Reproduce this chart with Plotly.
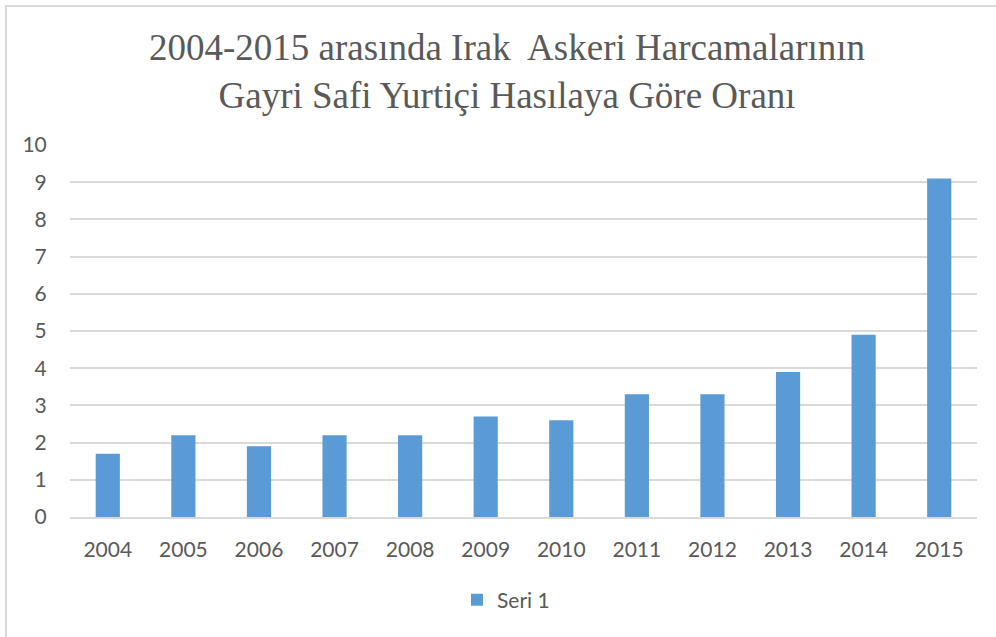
import plotly.graph_objects as go

years = ["2004", "2005", "2006", "2007", "2008", "2009", "2010", "2011", "2012", "2013", "2014", "2015"]
values = [1.7, 2.2, 1.9, 2.2, 2.2, 2.7, 2.6, 3.3, 3.3, 3.9, 4.9, 9.1]
series_name = "Seri 1"
title_text = "2004-2015 arasında Irak  Askeri Harcamalarının<br>Gayri Safi Yurtiçi Hasılaya Göre Oranı"

W, H = 996, 637
L, R, T, B = 70, 19, 145, 120
pw, ph = W - L - R, H - T - B

def px(x):
    return (x - L) / pw

def py(y):
    return (H - B - y) / ph

fig = go.Figure()
fig.add_trace(go.Bar(x=years, y=values, name=series_name, marker=dict(color="#5b9bd5", line=dict(width=0))))

fig.update_layout(
    width=W, height=H,
    margin=dict(l=L, r=R, t=T, b=B),
    paper_bgcolor="white", plot_bgcolor="white",
    bargap=0.68,
    showlegend=True,
    legend=dict(orientation="h", x=px(506), xanchor="center", y=py(600), yanchor="middle",
                font=dict(family="Lato", size=21, color="#595959")),
    font=dict(family="Lato", size=21, color="#595959"),
)
fig.update_xaxes(showgrid=False, showline=True, linecolor="#d9d9d9", linewidth=2,
                 ticks="outside", ticklen=13, tickcolor="rgba(0,0,0,0)",
                 tickfont=dict(family="Lato", size=21, color="#595959"))
fig.update_yaxes(range=[0, 10], dtick=1, showgrid=True, gridcolor="#d9d9d9", gridwidth=1.5,
                 zeroline=False, showline=False,
                 ticks="outside", ticklen=18, tickcolor="rgba(0,0,0,0)",
                 tickfont=dict(family="Lato", size=21, color="#595959"))

fig.add_annotation(text=title_text, xref="paper", yref="paper", x=px(507), y=py(72),
                   xanchor="center", yanchor="middle", showarrow=False,
                   font=dict(family="Liberation Serif", size=37, color="#595959"))

fig.add_shape(type="rect", xref="paper", yref="paper",
              x0=px(6), y0=py(700), x1=px(1100), y1=py(6),
              line=dict(color="#d9d9d9", width=2), fillcolor="rgba(0,0,0,0)", layer="below")

fig.write_html("out.html")
